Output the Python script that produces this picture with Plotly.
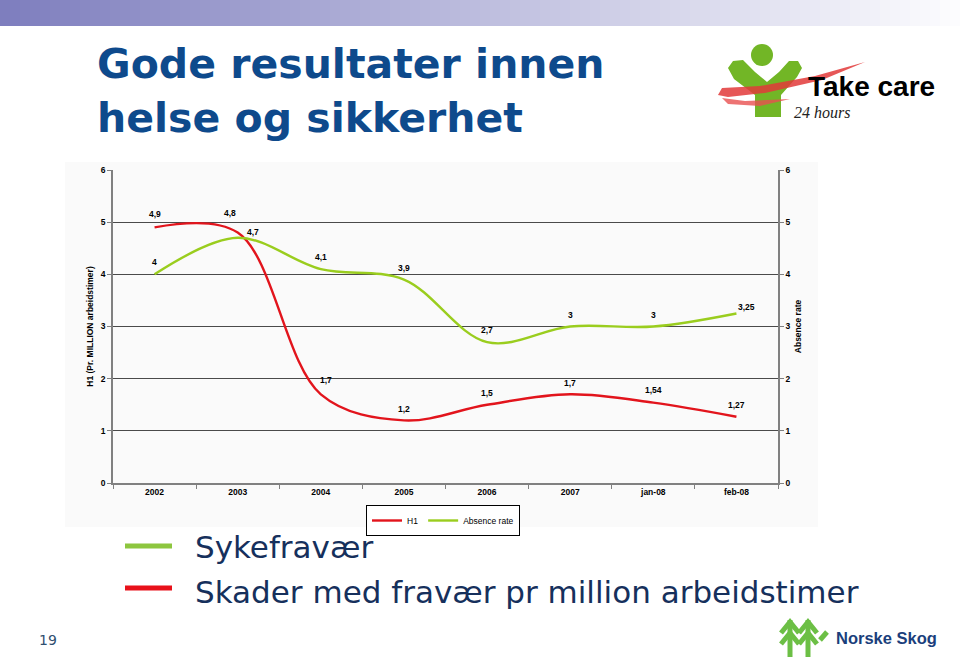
import plotly.graph_objects as go

# ---------------- data ----------------
categories = ["2002", "2003", "2004", "2005", "2006", "2007", "jan-08", "feb-08"]
h1_values = [4.9, 4.8, 1.7, 1.2, 1.5, 1.7, 1.54, 1.27]
absence_values = [4.0, 4.7, 4.1, 3.9, 2.7, 3.0, 3.0, 3.25]
y_ticks = [0, 1, 2, 3, 4, 5, 6]

# label offsets (style only, px)
h1_label_dx = [0, -8, 5, 0, 0, 0, 0, 0]
h1_label_dy = [13, 20, 14, 11, 12, 11, 13, 12]
abs_label_dx = [0, 15, 0, 0, 0, 0, 0, 10]
abs_label_dy = [12, 6, 12, 12, 12, 12, 12, 6]

# ---------------- geometry helpers ----------------
W, H = 960, 659
L, R, T, B = 113, 778, 170, 483


def fx(px):
    return (px - L) / (R - L)


def fy(py):
    return (B - py) / (B - T)


def path(points, close=True):
    s = "M " + " L ".join(f"{fx(x):.5f},{fy(y):.5f}" for x, y in points)
    return s + (" Z" if close else "")


def fmt(v):
    return f"{v:g}".replace(".", ",")


RED = "#e2141c"
GREEN = "#9acd1e"
BOLD = dict(family="Liberation Sans, Arial", size=8.5, color="black", weight="bold")

fig = go.Figure()
fig.add_trace(go.Scatter(
    x=categories, y=h1_values, name="H1", mode="lines",
    line=dict(color=RED, width=2.4, shape="spline", smoothing=1.0),
    yaxis="y"))
fig.add_trace(go.Scatter(
    x=categories, y=absence_values, name="Absence rate", mode="lines",
    line=dict(color=GREEN, width=2.4, shape="spline", smoothing=1.0),
    yaxis="y2"))

annotations = []
# category positions referenced by index on the category axis
for i, (v, dx, dy) in enumerate(zip(h1_values, h1_label_dx, h1_label_dy)):
    annotations.append(dict(x=i, y=v, xref="x", yref="y", text=fmt(v), showarrow=False,
                            xshift=dx, yshift=dy, font=BOLD))
for i, (v, dx, dy) in enumerate(zip(absence_values, abs_label_dx, abs_label_dy)):
    annotations.append(dict(x=i, y=v, xref="x", yref="y", text=fmt(v), showarrow=False,
                            xshift=dx, yshift=dy, font=BOLD))

shapes = []
# top gradient bar
n = 96
c0 = (126, 126, 190)
c1 = (252, 252, 254)
for i in range(n):
    t = i / (n - 1)
    col = tuple(round(c0[k] + (c1[k] - c0[k]) * t) for k in range(3))
    shapes.append(dict(type="rect", xref="paper", yref="paper",
                       x0=fx(i * 10), x1=fx((i + 1) * 10 + 0.5), y0=fy(26), y1=fy(0),
                       fillcolor=f"rgb{col}", line=dict(width=0), layer="below"))
# chart picture background
shapes.append(dict(type="rect", xref="paper", yref="paper", x0=fx(65), x1=fx(818),
                   y0=fy(527), y1=fy(162), fillcolor="#fafafa", line=dict(width=0), layer="below"))

# slide legend lines
shapes.append(dict(type="line", xref="paper", yref="paper", x0=fx(125), x1=fx(172),
                   y0=fy(546), y1=fy(546), line=dict(color="#8dc63f", width=5)))
shapes.append(dict(type="line", xref="paper", yref="paper", x0=fx(125), x1=fx(172),
                   y0=fy(588), y1=fy(588), line=dict(color="#e8111a", width=5)))

# Take care logo (approximation)
LG = "#72b626"
shapes.append(dict(type="circle", xref="paper", yref="paper", x0=fx(751), x1=fx(773),
                   y0=fy(66), y1=fy(44), fillcolor=LG, line=dict(width=0)))
shapes.append(dict(type="path", xref="paper", yref="paper",
                   path=path([(728, 68), (733, 61), (743, 60), (755, 72), (767, 82), (779, 72),
                              (789, 61), (798, 61), (802, 68), (797, 77), (781, 95), (781, 117),
                              (755, 117), (755, 95), (734, 79)]),
                   fillcolor=LG, line=dict(width=0)))
shapes.append(dict(type="path", xref="paper", yref="paper",
                   path=path([(718, 95), (722, 88), (760, 86), (815, 76), (865, 62),
                              (822, 80), (765, 93), (728, 97)]),
                   fillcolor="#e23a3a", opacity=0.85, line=dict(width=0)))
shapes.append(dict(type="path", xref="paper", yref="paper",
                   path=path([(722, 98), (745, 101), (790, 99), (760, 106), (728, 104)]),
                   fillcolor="#e85050", opacity=0.8, line=dict(width=0)))

# Norske Skog icon (approximation)
NG = "#6cbf45"
for pts in [
    [(790, 657), (790, 620)],
    [(781, 633), (790, 622), (799, 633)],
    [(781, 644), (790, 633), (799, 644)],
    [(808, 657), (808, 620)],
    [(799, 633), (808, 622), (817, 633)],
    [(799, 644), (808, 633), (817, 644)],
    [(820, 640), (827, 632)],
]:
    shapes.append(dict(type="path", xref="paper", yref="paper",
                       path=path(pts, close=False),
                       line=dict(color=NG, width=5)))

# slide texts
TITLE = dict(family="DejaVu Sans, Verdana", size=41, color="#0e4a8c", weight="bold")
annotations += [
    dict(xref="paper", yref="paper", x=fx(95), y=fy(64), text="Gode resultater innen",
         xanchor="left", yanchor="middle", showarrow=False, font=TITLE),
    dict(xref="paper", yref="paper", x=fx(95), y=fy(118), text="helse og sikkerhet",
         xanchor="left", yanchor="middle", showarrow=False, font=TITLE),
    dict(xref="paper", yref="paper", x=fx(193), y=fy(547), text="Sykefravær",
         xanchor="left", yanchor="middle", showarrow=False,
         font=dict(family="DejaVu Sans, Verdana", size=31, color="#16305c")),
    dict(xref="paper", yref="paper", x=fx(193), y=fy(592),
         text="Skader med fravær pr million arbeidstimer",
         xanchor="left", yanchor="middle", showarrow=False,
         font=dict(family="DejaVu Sans, Verdana", size=31, color="#16305c")),
    dict(xref="paper", yref="paper", x=fx(48), y=fy(640), text="19",
         xanchor="center", yanchor="middle", showarrow=False,
         font=dict(family="DejaVu Sans, Verdana", size=14, color="#2f4f6f")),
    dict(xref="paper", yref="paper", x=fx(806), y=fy(86), text="Take care",
         xanchor="left", yanchor="middle", showarrow=False,
         font=dict(family="Liberation Sans, Arial", size=28, color="black", weight="bold")),
    dict(xref="paper", yref="paper", x=fx(792), y=fy(113), text="24 hours",
         xanchor="left", yanchor="middle", showarrow=False,
         font=dict(family="Liberation Serif, Times New Roman", size=16, color="#222222",
                   style="italic")),
    dict(xref="paper", yref="paper", x=fx(834), y=fy(638), text="Norske Skog",
         xanchor="left", yanchor="middle", showarrow=False,
         font=dict(family="Liberation Sans, Arial", size=16.5, color="#1b3f7c", weight="bold")),
]

AXCOL = "#808080"
yaxis_common = dict(range=[0, 6], tickvals=y_ticks, ticks="outside", ticklen=4,
                    tickcolor=AXCOL, showline=True, linecolor=AXCOL, linewidth=1.5,
                    zeroline=False, tickfont=BOLD, fixedrange=True)

fig.update_layout(
    width=W, height=H, autosize=False,
    margin=dict(l=L, r=W - R, t=T, b=H - B),
    paper_bgcolor="white", plot_bgcolor="rgba(0,0,0,0)",
    showlegend=True,
    legend=dict(orientation="h", x=fx(443), xanchor="center", y=fy(505), yanchor="top",
                bgcolor="white", bordercolor="black", borderwidth=1,
                font=dict(family="Liberation Sans, Arial", size=8.5, color="black"),
                itemwidth=30, tracegroupgap=0),
    xaxis=dict(type="category", categoryorder="array", categoryarray=categories,
               range=[-0.5, len(categories) - 0.5], tickson="boundaries", ticks="outside",
               ticklen=4, tickcolor=AXCOL, showline=True, linecolor=AXCOL, linewidth=1.5,
               showgrid=False, tickfont=BOLD, fixedrange=True),
    yaxis=dict(**yaxis_common, showgrid=True, gridcolor="#4a4a4a", gridwidth=1,
               title=dict(text="H1 (Pr. MILLION arbeidstimer)", standoff=6,
                          font=dict(family="Liberation Sans Narrow, Arial Narrow, Liberation Sans",
                                    size=8.5, color="black", weight="bold"))),
    yaxis2=dict(**yaxis_common, overlaying="y", side="right", showgrid=False,
                title=dict(text="Absence rate", standoff=6,
                           font=dict(family="Liberation Sans Narrow, Arial Narrow, Liberation Sans",
                                     size=8.5, color="black", weight="bold"))),
    annotations=annotations,
    shapes=shapes,
)

fig.write_html("out.html")
